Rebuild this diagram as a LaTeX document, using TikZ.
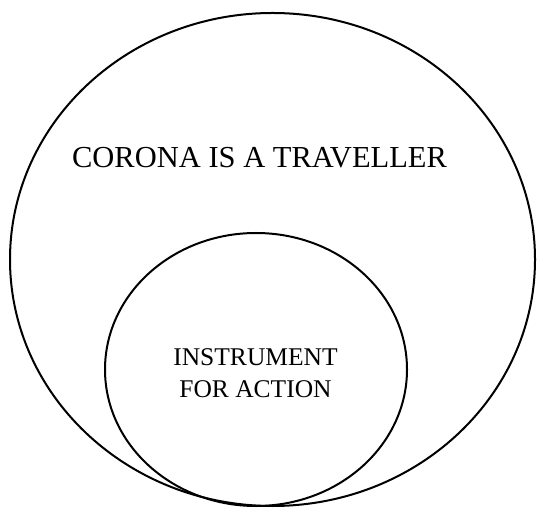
\documentclass[tikz,border=0pt]{standalone}
\usepackage{fontspec}
\setmainfont{Liberation Serif}
\usetikzlibrary{shapes.geometric}
\begin{document}
\begin{tikzpicture}[x=1pt,y=1pt,
  ring/.style={draw=black, line width=2pt, ellipse, inner sep=0pt},
  lbl/.style={inner sep=0pt, align=center}]
\useasboundingbox (0,0) rectangle (537,508);
\node[ring, minimum width=525pt, minimum height=493pt] (outer) at (272.5,248.5) {};
\node[ring, minimum width=302pt, minimum height=273pt] (inner) at (256,138.5) {};
\node[lbl, font=\fontsize{30.5}{36}\selectfont] (t1) at (259.5,350.5) {CORONA IS A TRAVELLER};
\node[lbl, font=\fontsize{25.5}{31.7}\selectfont] (t2) at (255.5,135) {INSTRUMENT\\FOR ACTION};
\end{tikzpicture}
\end{document}
